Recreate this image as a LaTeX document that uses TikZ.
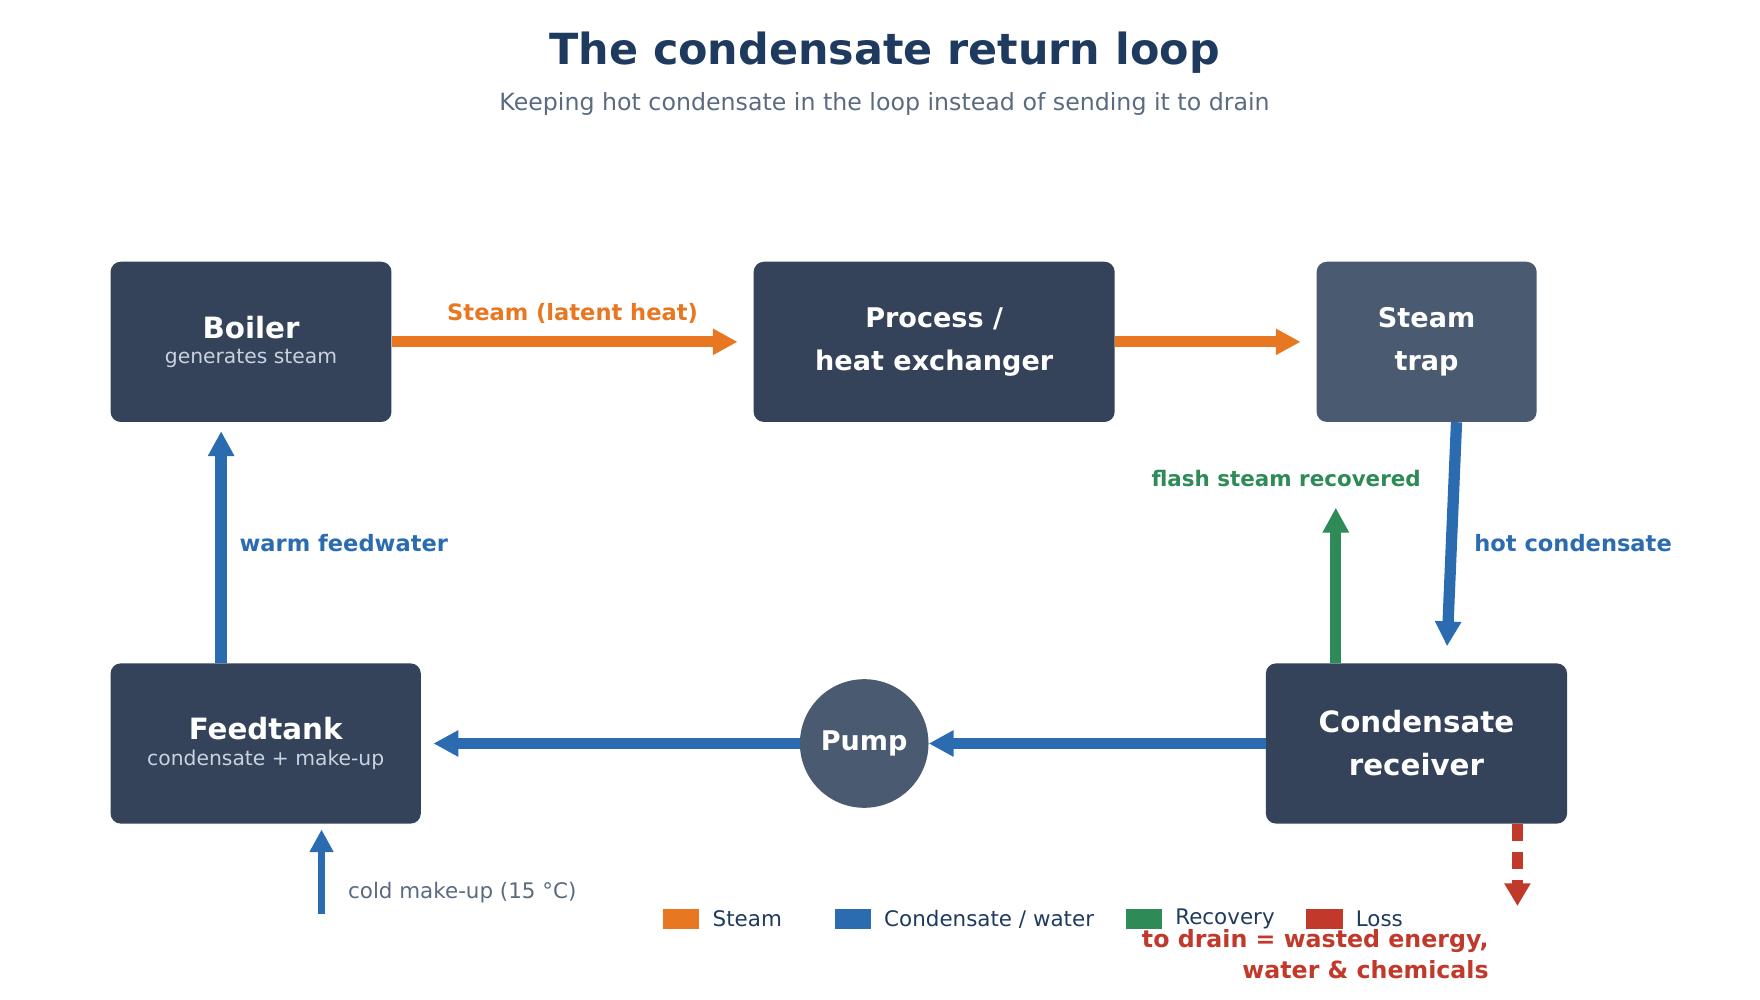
\documentclass[tikz,border=0pt]{standalone}
\usepackage{fontspec}
\setmainfont{DejaVu Sans}
\usetikzlibrary{arrows.meta,positioning}
\definecolor{boxdark}{HTML}{34435A}
\definecolor{boxlight}{HTML}{4A5A71}
\definecolor{steamc}{HTML}{E87722}
\definecolor{waterc}{HTML}{2B6CB0}
\definecolor{recc}{HTML}{2E8B57}
\definecolor{lossc}{HTML}{C0392B}
\definecolor{titlec}{HTML}{1F3A5F}
\definecolor{subc}{HTML}{5A6B80}
\definecolor{boxsub}{HTML}{C9D2DE}
\tikzset{
  unit/.style={rounded corners=9pt, text=white, align=center, inner sep=0pt},
  flow/.style={line width=10pt, -{Triangle[length=22pt,width=22pt]}},
  lbl/.style={font=\bfseries\fontsize{20}{24}\selectfont},
  key/.style={minimum width=32pt, minimum height=17pt, inner sep=0pt},
  keytxt/.style={font=\fontsize{19}{22}\selectfont, text=titlec, anchor=west}
}
\begin{document}
\begin{tikzpicture}[x=1pt,y=-1pt]
\useasboundingbox (0,0) rectangle (1560,886);

%Title
\node[font=\bfseries\fontsize{38}{44}\selectfont, text=titlec] (title) at (784,47) {The condensate return loop};
\node[font=\fontsize{21}{26}\selectfont, text=subc] (subtitle) at (784,92) {Keeping hot condensate in the loop instead of sending it to drain};

%Units
\node[unit, fill=boxdark, minimum width=249pt, minimum height=142pt] (boiler) at (222.5,303)
  {{\bfseries\fontsize{26}{30}\selectfont Boiler}\\[8pt]{\fontsize{18}{22}\selectfont\color{boxsub}generates steam}};
\node[unit, fill=boxdark, minimum width=320pt, minimum height=142pt, font=\bfseries\fontsize{24}{38}\selectfont] (process) at (828,303) {Process /\\heat exchanger};
\node[unit, fill=boxlight, minimum width=195pt, minimum height=142pt, font=\bfseries\fontsize{24}{38}\selectfont] (trap) at (1264.5,303) {Steam\\trap};
\node[unit, fill=boxdark, minimum width=275pt, minimum height=142pt] (feedtank) at (235.5,659)
  {{\bfseries\fontsize{26}{30}\selectfont Feedtank}\\[8pt]{\fontsize{18}{22}\selectfont\color{boxsub}condensate + make-up}};
\node[unit, fill=boxdark, minimum width=267pt, minimum height=142pt, font=\bfseries\fontsize{26}{38}\selectfont] (receiver) at (1255.5,659) {Condensate\\receiver};
\node[circle, fill=boxlight, text=white, minimum size=114pt, inner sep=0pt, font=\bfseries\fontsize{24}{28}\selectfont] (pump) at (766,659) {Pump};

%Free ends
\coordinate (flashend) at (1184,450);
\coordinate (makeupstart) at (285,810);
\coordinate (drainend) at (1345,803);

%Steam
\draw[flow, steamc, shorten >=14pt] (boiler.east) -- (process.west)
  node[midway, lbl, text=steamc, above=8pt] (steamlbl) {Steam (latent heat)};
\draw[flow, steamc, shorten >=14pt] (process.east) -- (trap.west);

%Condensate
\draw[flow, waterc, shorten >=15pt] ([xshift=26.5pt]trap.south) -- ([xshift=26.5pt]receiver.north)
  node[midway, lbl, text=waterc, right=12pt] (hotlbl) {hot condensate};
\draw[flow, waterc] (receiver.west) -- (pump.east);
\draw[flow, waterc, shorten >=11pt] (pump.west) -- (feedtank.east);
\draw[flow, waterc, shorten >=8pt] ([xshift=-39.5pt]feedtank.north) -- ([xshift=-26.5pt]boiler.south)
  node[midway, lbl, text=waterc, right=8pt] (warmlbl) {warm feedwater};
\draw[line width=7pt, waterc, -{Triangle[length=20pt,width=20pt]}, shorten >=5pt] (makeupstart) -- (makeupstart |- feedtank.south);
\node[font=\fontsize{19}{22}\selectfont, text=subc, anchor=west] (makeuplbl) at (305,791) {cold make-up (15 °C)};

%Recovery
\draw[flow, recc] (receiver.north -| flashend) -- (flashend);
\node[font=\bfseries\fontsize{19}{22}\selectfont, text=recc] (flashlbl) at (1140,424) {flash steam recovered};

%Loss
\draw[line width=9pt, lossc, dash pattern=on 15pt off 10pt, -{Triangle[length=20pt,width=22pt]}] (receiver.south -| drainend) -- (drainend);
\node[font=\bfseries\fontsize{21}{28}\selectfont, text=lossc, align=right, anchor=north east] (drainlbl) at (1323,820) {to drain = wasted energy,\\water \& chemicals};

%Legend
\node[key, fill=steamc] (ksteam) at (604,814.5) {};
\node[keytxt, right=8pt of ksteam] {Steam};
\node[key, fill=waterc] (kwater) at (756,814.5) {};
\node[keytxt, right=8pt of kwater] {Condensate / water};
\node[key, fill=recc] (krec) at (1014,814.5) {};
\node[keytxt, right=8pt of krec] {Recovery};
\node[key, fill=lossc] (kloss) at (1174,814.5) {};
\node[keytxt, right=8pt of kloss] {Loss};
\end{tikzpicture}
\end{document}
